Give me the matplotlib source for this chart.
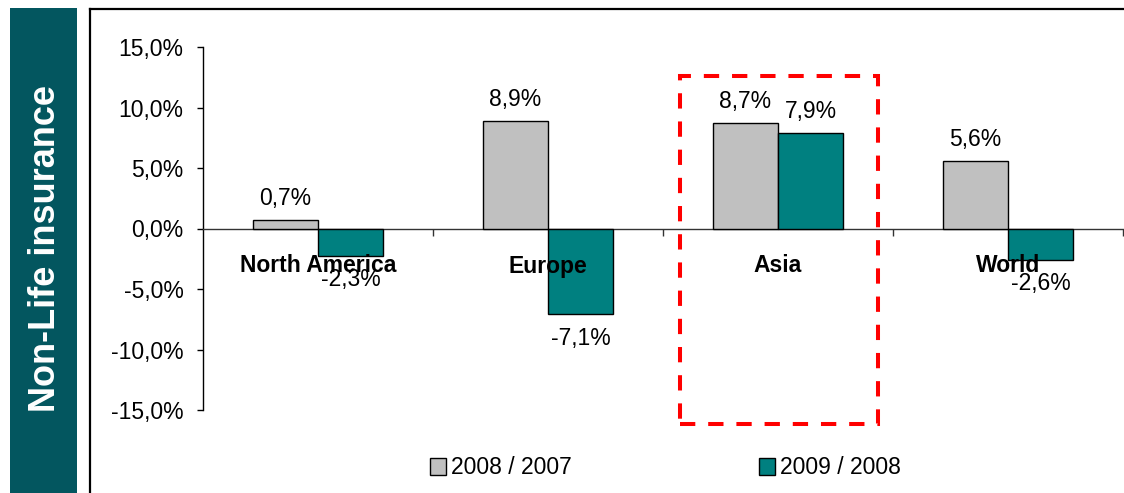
import matplotlib
matplotlib.use("Agg")
import matplotlib.pyplot as plt
from matplotlib.patches import Rectangle, Patch
from matplotlib.lines import Line2D

categories = ["North America", "Europe", "Asia", "World"]
series_names = ["2008 / 2007", "2009 / 2008"]
values_2008 = [0.7, 8.9, 8.7, 5.6]
values_2009 = [-2.3, -7.1, 7.9, -2.6]
yticks = [15, 10, 5, 0, -5, -10, -15]
ytick_labels = ["15,0%", "10,0%", "5,0%", "0,0%", "-5,0%", "-10,0%", "-15,0%"]
side_title = "Non-Life insurance"

plt.rcParams['font.family'] = ['Liberation Sans', 'DejaVu Sans']
FS = 16.5

W, H, DPI = 1124, 493, 100
fig = plt.figure(figsize=(W / DPI, H / DPI), dpi=DPI)

def fx(px):
    return px / W

def fy(py):
    return 1 - py / H

# sidebar
fig.patches.append(Rectangle((fx(10), 0), fx(77) - fx(10), fy(8), transform=fig.transFigure,
                             facecolor="#03565f", edgecolor="none", zorder=0))
fig.text(fx(46), fy(249), side_title, rotation=90, color="white", fontsize=26,
         fontweight="bold", ha="center", va="center")
# frame lines
fig.add_artist(Line2D([fx(90), fx(90)], [0, fy(9)], transform=fig.transFigure, color="black", lw=1.6))
fig.add_artist(Line2D([fx(90), 1], [fy(9), fy(9)], transform=fig.transFigure, color="black", lw=1.6))

ax = fig.add_axes([fx(203), fy(410), fx(1123) - fx(203), fy(47) - fy(410)])
ax.set_ylim(-15, 15)
ax.set_xlim(-0.5, len(categories) - 0.5)

w = 65 / 230
x = list(range(len(categories)))
gray, teal = "#c0c0c0", "#008080"
b1 = ax.bar([i - w / 2 for i in x], values_2008, width=w, color=gray, edgecolor="black", lw=1, zorder=3)
b2 = ax.bar([i + w / 2 for i in x], values_2009, width=w, color=teal, edgecolor="black", lw=1, zorder=3)

def fmt(v):
    return f"{v:.1f}".replace(".", ",") + "%"

for bars, vals in ((b1, values_2008), (b2, values_2009)):
    for rect, v in zip(bars, vals):
        cx = rect.get_x() + rect.get_width() / 2
        off = 15.5 if v >= 0 else -17
        ax.annotate(fmt(v), (cx, v), xytext=(0, off), textcoords="offset points",
                    ha="center", va="center", fontsize=FS, zorder=5)

for i, c in enumerate(categories):
    ax.annotate(c, (i, 0), xytext=(0, -27), textcoords="offset points",
                ha="center", va="center", fontsize=FS, fontweight="bold", zorder=6)

# spines
for s in ("top", "right"):
    ax.spines[s].set_visible(False)
ax.spines["left"].set_linewidth(1)
ax.spines["bottom"].set_position(("data", 0))
ax.spines["bottom"].set_linewidth(1)
ax.spines["bottom"].set_color("#333333")
ax.set_yticks(yticks)
ax.set_yticklabels(ytick_labels)
ax.tick_params(axis="y", direction="out", length=4, width=1, pad=10, labelsize=FS)
ax.set_xticks([i + 0.5 for i in range(len(categories))])
ax.set_xticklabels([])
ax.tick_params(axis="x", direction="out", length=5, width=1, color="#333333")

# highlight box around Asia
hx0 = (680 - 203) / 230 - 0.5
hx1 = (878 - 203) / 230 - 0.5
hy0 = (228 - 423) / 12.1
hy1 = (228 - 75) / 12.1
ax.add_patch(Rectangle((hx0, hy0), hx1 - hx0, hy1 - hy0, fill=False, edgecolor="#ff0000",
                       lw=2.9, linestyle=(0, (3.8, 3.2)), clip_on=False, zorder=7))

colors = [gray, teal]
legend_x = [430, 759]
for name, col, lx in zip(series_names, colors, legend_x):
    h = Patch(facecolor=col, edgecolor="black", lw=1)
    fig.legend([h], [name], loc="center left", bbox_to_anchor=(fx(lx), fy(468)),
               frameon=False, fontsize=FS, handlelength=0.7, handleheight=0.7, handletextpad=0.2,
               borderaxespad=0, borderpad=0)

fig.savefig("out.png", dpi=DPI)
